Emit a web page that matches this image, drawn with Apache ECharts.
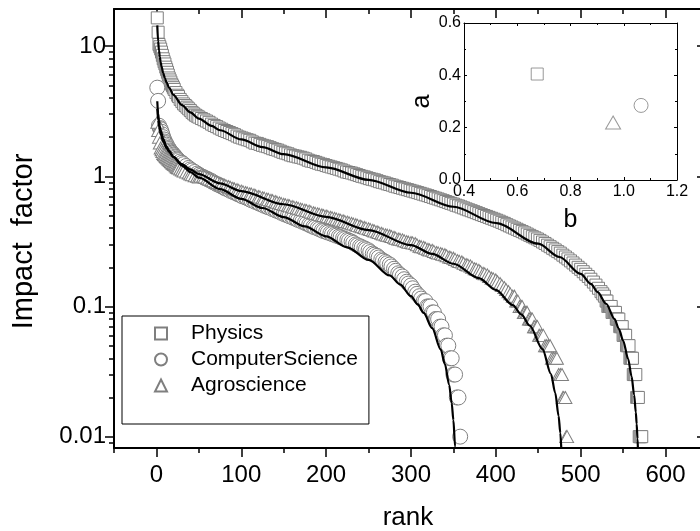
<!DOCTYPE html>
<html>
<head>
<meta charset="utf-8">
<script src="https://cdn.jsdelivr.net/npm/echarts@6/dist/echarts.min.js"></script>
<style>html,body{margin:0;padding:0;background:#fff}#c{width:700px;height:531px}</style>
</head>
<body>
<div id="c"></div>
<script>
// ---------- data ----------
const seriesNames = ['Physics', 'ComputerScience', 'Agroscience'];

// [rank, impact factor]
const physicsPoints = [[1,16.5],[2,12.8],[3,10.3],[4,9.9],[5,9.5],[6,9.0],[7,8.5],[8,8.0],[10,7.3],[12,6.6],[14,6.0],[16,5.5],[18,5.1],[20,4.8],[23,4.4],[26,4.1],[30,3.75],[34,3.5],[38,3.3],[42,3.1],[46,2.95],[50,2.85],[56,2.72],[62,2.6],[68,2.46],[74,2.35],[80,2.25],[86,2.17],[92,2.09],[98,2.0],[104,1.94],[110,1.89],[116,1.8],[122,1.76],[128,1.71],[134,1.66],[140,1.61],[146,1.56],[152,1.51],[158,1.46],[164,1.43],[170,1.40],[176,1.36],[182,1.31],[188,1.28],[194,1.24],[200,1.21],[206,1.18],[212,1.15],[218,1.12],[224,1.08],[230,1.06],[236,1.03],[242,1.0],[248,0.975],[254,0.95],[260,0.925],[266,0.9],[272,0.875],[278,0.855],[284,0.83],[290,0.81],[296,0.79],[302,0.77],[308,0.75],[314,0.73],[320,0.71],[326,0.69],[332,0.67],[338,0.65],[344,0.63],[350,0.612],[356,0.592],[362,0.572],[368,0.553],[374,0.535],[380,0.517],[386,0.5],[392,0.484],[398,0.468],[404,0.452],[410,0.435],[416,0.416],[422,0.4],[428,0.384],[434,0.368],[440,0.352],[446,0.337],[452,0.322],[458,0.305],[464,0.288],[470,0.272],[476,0.257],[482,0.24],[488,0.224],[494,0.208],[500,0.193],[506,0.177],[512,0.162],[518,0.146],[524,0.13],[528,0.12],[530,0.11],[533,0.10],[536,0.10],[538,0.09],[541,0.09],[543,0.08],[545,0.08],[547,0.07],[549,0.07],[551,0.06],[553,0.06],[555,0.05],[557,0.05],[559,0.04],[561,0.04],[563,0.03],[565,0.03],[567,0.02],[568,0.02],[570,0.01],[571,0.01],[572,0.01]];
const physicsPointsB = [[9,7.6],[11,6.9],[13,6.3],[15,5.7],[17,5.3],[19,4.95],[21,4.65],[25,4.2],[28,3.9],[32,3.6],[36,3.4],[40,3.2],[44,3.02],[48,2.9],[53,2.78],[59,2.66],[65,2.52],[71,2.41],[77,2.30],[83,2.21],[89,2.13],[95,2.04],[101,1.97],[107,1.91],[113,1.84],[119,1.79],[125,1.73],[131,1.69],[137,1.63],[143,1.59],[149,1.53],[155,1.49],[161,1.44],[167,1.41],[173,1.38],[179,1.33],[185,1.30],[191,1.26],[197,1.23],[203,1.195],[209,1.165],[215,1.135],[221,1.10],[227,1.07],[233,1.045],[239,1.015],[245,0.99],[251,0.96],[257,0.94],[263,0.91],[269,0.89],[275,0.865],[281,0.84],[287,0.82],[293,0.80],[299,0.78],[305,0.76],[311,0.74],[317,0.72],[323,0.70],[329,0.68],[335,0.66],[341,0.64],[347,0.62],[353,0.60],[359,0.582],[365,0.562],[371,0.544],[377,0.526],[383,0.508],[389,0.492],[395,0.476],[401,0.46],[407,0.443],[413,0.425],[419,0.408],[425,0.392],[431,0.376],[437,0.36],[443,0.344],[449,0.33],[455,0.313],[461,0.296],[467,0.28],[473,0.264],[479,0.248],[485,0.232],[491,0.216],[497,0.2],[503,0.185],[509,0.17],[515,0.154],[521,0.138],[526,0.125],[531,0.11],[532,0.10],[534,0.10],[535,0.10],[537,0.09],[539,0.09],[540,0.09],[542,0.08],[544,0.08],[546,0.07],[548,0.07],[550,0.06],[552,0.06],[554,0.05],[556,0.05],[558,0.04],[560,0.04],[562,0.03],[564,0.03],[566,0.02],[569,0.01]];

const csPoints = [[1,4.8],[2,3.8],[3,2.45],[4,2.35],[5,2.3],[6,2.2],[8,2.0],[10,1.85],[12,1.75],[14,1.65],[17,1.55],[20,1.47],[23,1.4],[26,1.33],[30,1.27],[35,1.2],[40,1.13],[45,1.08],[50,1.03],[55,0.99],[60,0.955],[65,0.92],[70,0.88],[75,0.85],[80,0.815],[85,0.79],[90,0.76],[95,0.735],[100,0.71],[105,0.69],[110,0.665],[115,0.645],[120,0.625],[125,0.605],[130,0.585],[135,0.57],[140,0.55],[145,0.535],[150,0.515],[155,0.5],[160,0.485],[165,0.47],[170,0.455],[175,0.44],[180,0.425],[185,0.41],[190,0.4],[195,0.385],[200,0.375],[205,0.365],[210,0.355],[215,0.345],[220,0.335],[225,0.325],[230,0.315],[235,0.3],[240,0.29],[245,0.28],[250,0.27],[255,0.255],[260,0.245],[265,0.23],[270,0.22],[275,0.21],[280,0.195],[285,0.18],[290,0.17],[295,0.155],[300,0.145],[305,0.13],[310,0.12],[315,0.11],[319,0.10],[323,0.10],[327,0.09],[330,0.08],[334,0.07],[338,0.06],[342,0.05],[346,0.04],[350,0.03],[354,0.02],[358,0.01]];
const csPointsB = [[7,2.1],[9,1.92],[11,1.8],[13,1.7],[15,1.62],[16,1.58],[18,1.52],[19,1.5],[21,1.45],[22,1.42],[24,1.37],[25,1.35],[28,1.3],[32,1.24],[38,1.16],[42,1.11],[48,1.05],[52,1.01],[57,0.975],[62,0.94],[67,0.9],[72,0.865],[77,0.835],[82,0.805],[87,0.775],[92,0.75],[97,0.725],[102,0.70],[107,0.68],[112,0.655],[117,0.635],[122,0.615],[127,0.595],[132,0.578],[137,0.56],[142,0.543],[147,0.525],[152,0.508],[157,0.493],[162,0.478],[167,0.462],[172,0.448],[177,0.433],[182,0.418],[187,0.405],[192,0.392],[197,0.38],[202,0.37],[207,0.36],[212,0.35],[217,0.34],[222,0.33],[227,0.32],[232,0.308],[237,0.295],[242,0.285],[247,0.275],[252,0.262],[257,0.25],[262,0.238],[267,0.225],[272,0.215],[277,0.203],[282,0.188],[287,0.175],[292,0.162],[297,0.15],[302,0.138],[307,0.125],[312,0.115],[317,0.11],[321,0.10],[325,0.09],[329,0.08],[332,0.08],[336,0.07],[340,0.06],[344,0.05],[348,0.04],[352,0.03],[356,0.02]];

const agroPoints = [[1,2.6],[2,2.25],[3,2.0],[4,1.8],[5,1.65],[6,1.6],[7,1.55],[8,1.5],[10,1.45],[12,1.4],[14,1.36],[17,1.3],[20,1.25],[23,1.2],[26,1.16],[30,1.12],[35,1.08],[40,1.04],[45,1.01],[50,0.99],[55,1.0],[60,0.97],[65,0.94],[70,0.91],[75,0.88],[80,0.855],[85,0.835],[90,0.81],[95,0.79],[100,0.77],[105,0.75],[110,0.735],[115,0.72],[120,0.70],[125,0.685],[130,0.67],[135,0.655],[140,0.64],[145,0.625],[150,0.61],[155,0.6],[160,0.585],[165,0.575],[170,0.56],[175,0.55],[180,0.54],[185,0.525],[190,0.515],[195,0.505],[200,0.495],[205,0.485],[210,0.475],[215,0.465],[220,0.455],[225,0.445],[230,0.435],[235,0.425],[240,0.415],[245,0.405],[250,0.395],[255,0.385],[260,0.375],[265,0.365],[270,0.355],[275,0.35],[280,0.34],[285,0.33],[290,0.325],[295,0.315],[300,0.31],[305,0.305],[310,0.29],[315,0.285],[320,0.275],[325,0.27],[330,0.26],[335,0.255],[340,0.25],[345,0.24],[350,0.235],[355,0.225],[360,0.22],[365,0.21],[370,0.205],[375,0.195],[380,0.19],[385,0.18],[390,0.175],[395,0.165],[400,0.16],[405,0.15],[410,0.14],[415,0.13],[420,0.12],[424,0.11],[428,0.10],[431,0.10],[434,0.09],[437,0.09],[440,0.08],[443,0.08],[446,0.07],[449,0.07],[452,0.06],[456,0.06],[460,0.05],[464,0.05],[468,0.04],[472,0.04],[476,0.03],[478,0.03],[480,0.02],[482,0.02],[484,0.01]];
const agroPointsB = [[9,1.47],[11,1.42],[13,1.38],[15,1.34],[16,1.32],[18,1.28],[19,1.26],[21,1.23],[22,1.22],[24,1.18],[25,1.17],[28,1.14],[32,1.1],[38,1.06],[42,1.03],[48,1.0],[52,1.0],[57,0.99],[62,0.955],[67,0.925],[72,0.895],[77,0.87],[82,0.845],[87,0.825],[92,0.8],[97,0.78],[102,0.76],[107,0.745],[112,0.73],[117,0.71],[122,0.695],[127,0.68],[132,0.665],[137,0.65],[142,0.633],[147,0.618],[152,0.605],[157,0.593],[162,0.58],[167,0.568],[172,0.555],[177,0.545],[182,0.533],[187,0.52],[192,0.51],[197,0.5],[202,0.49],[207,0.48],[212,0.47],[217,0.46],[222,0.45],[227,0.44],[232,0.43],[237,0.42],[242,0.41],[247,0.4],[252,0.39],[257,0.38],[262,0.37],[267,0.36],[272,0.353],[277,0.345],[282,0.335],[287,0.328],[292,0.32],[297,0.312],[302,0.308],[307,0.298],[312,0.288],[317,0.28],[322,0.272],[327,0.265],[332,0.258],[337,0.252],[342,0.245],[347,0.238],[352,0.23],[357,0.222],[362,0.215],[367,0.208],[372,0.2],[377,0.193],[382,0.185],[387,0.178],[392,0.17],[397,0.163],[402,0.155],[407,0.145],[412,0.135],[417,0.125],[422,0.12],[426,0.11],[430,0.10],[433,0.09],[436,0.09],[439,0.08],[442,0.08],[445,0.07],[448,0.07],[451,0.06],[454,0.06],[458,0.05],[462,0.05],[466,0.04],[470,0.04],[474,0.03],[479,0.02],[483,0.01]];

// fitted curves
const physicsFit = [[1,14.45],[2,10.93],[3,9.28],[4,8.26],[5,7.54],[6,7.0],[8,6.22],[10,5.67],[12,5.25],[15,4.78],[20,4.23],[30,3.53],[40,3.10],[50,2.78],[65,2.44],[75,2.26],[100,1.92],[125,1.675],[150,1.48],[200,1.17],[250,0.94],[300,0.748],[350,0.584],[400,0.438],[450,0.304],[475,0.24],[500,0.178],[512,0.149],[520,0.129],[530,0.105],[540,0.0799],[545,0.0674],[550,0.0548],[556,0.0395],[560,0.029],[563,0.0209],[565,0.01535],[566,0.0125],[567,0.00962],[568,0.00666],[569,0.00353]];
const csFit = [[1,3.77],[2,3.03],[3,2.67],[4,2.43],[5,2.26],[8,1.94],[12,1.69],[15,1.567],[20,1.41],[30,1.21],[40,1.078],[50,0.977],[75,0.798],[100,0.671],[125,0.571],[150,0.486],[175,0.412],[200,0.346],[225,0.285],[250,0.228],[275,0.173],[287,0.148],[300,0.12],[308,0.1037],[315,0.0892],[325,0.0682],[335,0.0469],[340,0.0361],[345,0.025],[348,0.0181],[350,0.0134],[352,0.0084],[353,0.0059],[354,0.0031]];
const agroFit = [[1,3.29],[2,2.72],[3,2.43],[4,2.25],[5,2.11],[8,1.85],[12,1.645],[15,1.54],[20,1.41],[30,1.24],[40,1.125],[50,1.04],[75,0.882],[100,0.771],[150,0.61],[200,0.488],[250,0.386],[300,0.296],[325,0.2535],[350,0.213],[380,0.165],[400,0.134],[420,0.1025],[430,0.0869],[440,0.0711],[455,0.047],[465,0.0303],[470,0.0217],[474,0.0144],[476,0.0107],[478,0.00678],[479,0.0047]];

// inset: fit parameters b (x) and a (y) per field
const insetB = [0.675, 1.065, 0.96];
const insetA = [0.405, 0.285, 0.22];

// tick values
const xMajorTicks = [0, 100, 200, 300, 400, 500, 600];
const xMinorTicks = [-50, 50, 150, 250, 350, 450, 550];
const yMajorTicks = [0.01, 0.1, 1, 10];
const yMinorTicks = [0.009, 0.02, 0.03, 0.04, 0.05, 0.06, 0.07, 0.08, 0.09, 0.2, 0.3, 0.4, 0.5, 0.6, 0.7, 0.8, 0.9, 2, 3, 4, 5, 6, 7, 8, 9];

// ---------- chart ----------
const FONT = '"Liberation Sans", Arial, Helvetica, sans-serif';
const GRAY = '#7f7f7f';
const symbols = ['rect', 'circle', 'triangle'];
const symbolSizes = [12, 15, [13, 12]];

const X_MIN = -50, X_MAX = 643;
const Y_MIN = 0.00818, Y_MAX = 19.3;

function tickAxisX(pos, ticks, len, inside, extra) {
  return Object.assign({
    type: 'value', gridIndex: 0, position: pos, min: X_MIN, max: X_MAX,
    axisLine: { show: false, onZero: false },
    axisTick: { show: true, inside: inside, length: len, customValues: ticks, lineStyle: { color: '#000', width: 1.5 } },
    axisLabel: { show: false },
    splitLine: { show: false }
  }, extra || {});
}
function tickAxisY(pos, ticks, len, inside, extra) {
  return Object.assign({
    type: 'log', logBase: 10, gridIndex: 0, position: pos, min: Y_MIN, max: Y_MAX,
    axisLine: { show: false, onZero: false },
    axisTick: { show: true, inside: inside, length: len, customValues: ticks, lineStyle: { color: '#000', width: 1.5 } },
    axisLabel: { show: false },
    splitLine: { show: false }
  }, extra || {});
}

const xAxes = [
  tickAxisX('bottom', xMajorTicks, 9, false, {
    axisLine: { show: true, onZero: false, lineStyle: { color: '#000', width: 2 } },
    axisLabel: { show: true, customValues: xMajorTicks, fontSize: 24, color: '#000', fontFamily: FONT, margin: 15 },
    name: 'rank', nameLocation: 'middle', nameGap: 57,
    nameTextStyle: { fontSize: 26, color: '#000', fontFamily: FONT }
  }),
  tickAxisX('bottom', xMinorTicks, 5, false),
  tickAxisX('top', xMajorTicks, 9, true, {
    axisLine: { show: true, onZero: false, lineStyle: { color: '#000', width: 2 } }
  }),
  tickAxisX('top', xMinorTicks, 5, true),
  // inset x axes
  {
    type: 'value', gridIndex: 1, position: 'bottom', min: 0.4, max: 1.2, interval: 0.2,
    axisLine: { show: true, onZero: false, lineStyle: { color: '#000', width: 1 } },
    axisTick: { show: true, inside: true, length: 3, lineStyle: { color: '#000' } },
    minorTick: { show: true, splitNumber: 2, length: 2, lineStyle: { color: '#000' } },
    axisLabel: { fontSize: 16, color: '#000', fontFamily: FONT, margin: 4, formatter: v => v.toFixed(1) },
    splitLine: { show: false },
    name: 'b', nameLocation: 'middle', nameGap: 28,
    nameTextStyle: { fontSize: 25, color: '#000', fontFamily: FONT }
  },
  {
    type: 'value', gridIndex: 1, position: 'top', min: 0.4, max: 1.2, interval: 0.2,
    axisLine: { show: true, onZero: false, lineStyle: { color: '#000', width: 1 } },
    axisTick: { show: true, inside: true, length: 3, lineStyle: { color: '#000' } },
    minorTick: { show: true, splitNumber: 2, length: 2, lineStyle: { color: '#000' } },
    axisLabel: { show: false }, splitLine: { show: false }
  }
];

const yAxes = [
  tickAxisY('left', yMajorTicks, 9, false, {
    axisLine: { show: true, onZero: false, lineStyle: { color: '#000', width: 2 } },
    axisLabel: { show: true, customValues: yMajorTicks, fontSize: 24, color: '#000', fontFamily: FONT, margin: 8 },
    name: 'Impact  factor', nameLocation: 'middle', nameGap: 76,
    nameTextStyle: { fontSize: 29, color: '#000', fontFamily: FONT, padding: [0, 26, 0, 0] }
  }),
  tickAxisY('left', yMinorTicks, 5, false),
  tickAxisY('right', yMajorTicks, 5, true, {
    axisLine: { show: true, onZero: false, lineStyle: { color: '#000', width: 2 } }
  }),
  // inset y axes
  {
    type: 'value', gridIndex: 1, position: 'left', min: 0, max: 0.6, interval: 0.2,
    axisLine: { show: true, onZero: false, lineStyle: { color: '#000', width: 1 } },
    axisTick: { show: true, inside: true, length: 3, lineStyle: { color: '#000' } },
    minorTick: { show: true, splitNumber: 2, length: 2, lineStyle: { color: '#000' } },
    axisLabel: { fontSize: 16, color: '#000', fontFamily: FONT, margin: 3, formatter: v => v.toFixed(1) },
    splitLine: { show: false },
    name: 'a', nameLocation: 'middle', nameGap: 28,
    nameTextStyle: { fontSize: 25, color: '#000', fontFamily: FONT }
  },
  {
    type: 'value', gridIndex: 1, position: 'right', min: 0, max: 0.6, interval: 0.2,
    axisLine: { show: true, onZero: false, lineStyle: { color: '#000', width: 1 } },
    axisTick: { show: true, inside: true, length: 3, lineStyle: { color: '#000' } },
    minorTick: { show: true, splitNumber: 2, length: 2, lineStyle: { color: '#000' } },
    axisLabel: { show: false }, splitLine: { show: false }
  }
];

// draw points in rank order so later (lower) marks overlap earlier ones
const byRank = (a, b) => a[0] - b[0];
const pointSets = [
  physicsPoints.concat(physicsPointsB).sort(byRank),
  csPoints.concat(csPointsB).sort(byRank),
  agroPoints.concat(agroPointsB).sort(byRank)
];
const fitSets = [physicsFit, csFit, agroFit];

const series = [];
pointSets.forEach((pts, i) => {
  series.push({
    name: seriesNames[i], type: 'scatter', xAxisIndex: 0, yAxisIndex: 0,
    symbol: symbols[i], symbolSize: symbolSizes[i],
    itemStyle: { color: '#fff', borderColor: GRAY, borderWidth: 1, opacity: 1 },
    data: pts, z: 2, silent: true
  });
});
fitSets.forEach((pts, i) => {
  series.push({
    name: seriesNames[i] + ' fit', type: 'line', xAxisIndex: 0, yAxisIndex: 0,
    showSymbol: false, symbol: 'none', smooth: 0.3, smoothMonotone: 'x',
    lineStyle: { color: '#000', width: 2.2 }, data: pts, z: 5, clip: true, silent: true
  });
});
insetB.forEach((b, i) => {
  series.push({
    name: 'inset ' + seriesNames[i], type: 'scatter', xAxisIndex: 4, yAxisIndex: 3,
    symbol: symbols[i], symbolSize: i === 0 ? 12 : (i === 1 ? 14 : [15, 13]),
    itemStyle: { color: '#fff', borderColor: GRAY, borderWidth: 1 },
    data: [[b, insetA[i]]], z: 6, silent: true
  });
});

const chart = echarts.init(document.getElementById('c'), null, { renderer: 'canvas' });
chart.setOption({
  animation: false,
  backgroundColor: '#fff',
  textStyle: { fontFamily: FONT },
  grid: [
    { left: 114, top: 9, right: -2, bottom: 83, containLabel: false, outerBoundsMode: 'none' },
    { left: 464, top: 23, width: 213, height: 157, show: false, containLabel: false, outerBoundsMode: 'none' }
  ],
  legend: {
    show: true, orient: 'vertical', left: 122, top: 316,
    data: seriesNames, itemWidth: 12, itemHeight: 12, itemGap: 5,
    symbolKeepAspect: true,
    padding: [7, 11, 28, 32], borderColor: '#000', borderWidth: 1,
    backgroundColor: '#fff', selectedMode: false,
    textStyle: { fontSize: 21, color: '#000', fontFamily: FONT, padding: [0, 0, 0, 19] }
  },
  xAxis: xAxes,
  yAxis: yAxes,
  series: series
});
</script>
</body>
</html>
